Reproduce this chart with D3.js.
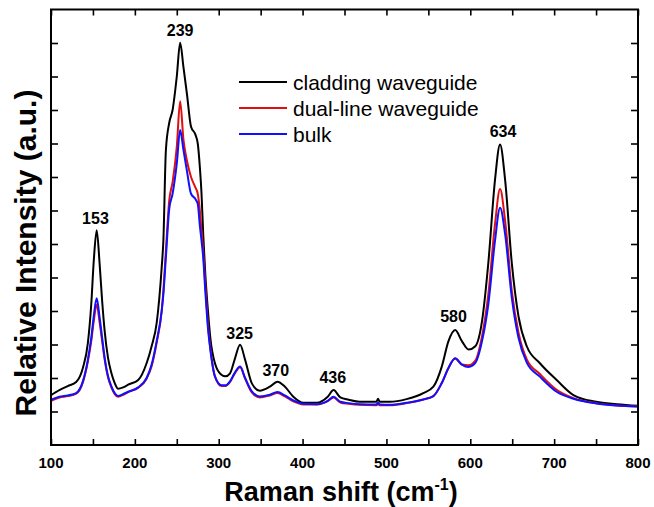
<!DOCTYPE html>
<html><head><meta charset="utf-8">
<script src="https://cdn.jsdelivr.net/npm/d3@7"></script>
<style>html,body{margin:0;padding:0;background:#fff;}svg{display:block;font-family:"Liberation Sans",Arial,sans-serif;}</style>
</head><body>
<svg id="chart" width="654" height="507"></svg>
<script>
const shift = [100,110,120,130,138,144,148,151,154.5,158,
161,164,168,172,176,180,186,192,204,214,
220,226,232,234,237,241,245,250,254,258,
262,267,272,275,277.5,279.5,281.5,284,287.5,290,
295.5,303.5,308,313.5,319,325.5,331.5,339.5,349,361,
370,379,389,401,417,430,437,445,455,468,
488,490,492,504,524,544,556,566,574,582,
590,598,606,614,621.5,629.5,635.5,641.5,649.5,657.5,
667.5,683,703,723,750,775,800];
const cladding = [1.49,1.64,1.76,1.88,2.3,3.05,4.2,5.5,6.41,5.4,
4.3,3.4,2.6,2.15,1.85,1.68,1.72,1.8,1.94,2.44,
2.95,3.64,5.3,6.1,8.8,9.62,10.0,11.0,12.01,11.27,
10.5,9.5,9.28,9.0,8.3,7.5,6.3,5.1,3.9,3.2,
2.44,2.09,2.05,2.14,2.55,2.99,2.54,1.84,1.62,1.74,
1.89,1.74,1.44,1.26,1.26,1.44,1.64,1.42,1.35,1.29,
1.29,1.38,1.29,1.29,1.37,1.55,1.74,2.34,3.1,3.43,
3.1,2.85,2.95,3.7,5.43,7.92,8.97,7.92,5.43,3.84,
2.94,2.44,1.94,1.49,1.29,1.22,1.17];
const dualLine = [1.32,1.42,1.46,1.53,1.87,2.5,3.1,3.7,4.19,3.65,
3.1,2.55,2.02,1.72,1.52,1.44,1.5,1.58,1.71,1.98,
2.35,3.05,4.0,4.6,5.8,7.3,7.85,8.9,10.26,9.1,
8.5,8.0,7.7,7.5,7.0,6.4,5.8,4.8,3.5,2.9,
2.05,1.76,1.76,1.88,2.13,2.32,1.98,1.57,1.42,1.48,
1.55,1.45,1.3,1.21,1.21,1.31,1.42,1.27,1.23,1.2,
1.19,1.22,1.19,1.19,1.25,1.36,1.46,1.85,2.3,2.58,
2.4,2.38,2.52,3.25,4.5,6.6,7.64,6.7,4.6,3.35,
2.55,2.12,1.65,1.4,1.25,1.18,1.15];
const bulk = [1.35,1.44,1.48,1.55,1.9,2.55,3.2,3.85,4.38,3.8,
3.2,2.6,2.05,1.75,1.55,1.46,1.52,1.59,1.72,2.0,
2.4,3.1,4.0,4.5,5.6,7.05,7.5,8.4,9.4,8.8,
8.2,7.5,7.35,7.2,6.55,6.1,5.6,4.6,3.4,2.85,
2.05,1.78,1.78,1.9,2.15,2.34,2.0,1.6,1.45,1.5,
1.58,1.48,1.33,1.23,1.22,1.32,1.44,1.29,1.25,1.22,
1.21,1.26,1.21,1.2,1.26,1.36,1.46,1.85,2.3,2.59,
2.4,2.33,2.45,3.1,4.2,6.1,7.08,6.3,4.4,3.2,
2.45,2.04,1.59,1.38,1.24,1.18,1.15];
const seriesNames = ["cladding waveguide","dual-line waveguide","bulk"];
const seriesColors = ["#000000","#e01010","#1010ff"];
const xTickLabels = [100,200,300,400,500,600,700,800];
const peakShifts = [153,239,325,370,436,580,634];
const peakLabelX = [153,254,325,368,436,580,639];
const peakLabelY = [6.6,12.2,3.17,2.07,1.85,3.66,9.2];

const svg = d3.select("#chart");
const L=51,R=638,T=9.5,B=445;
const x = d3.scaleLinear().domain([100,800]).range([L,R]);
const y = d3.scaleLinear().domain([0,13]).range([B,T]);

const allSeries = [cladding, dualLine, bulk];
const line = d3.line().x((d,i)=>x(shift[i])).y(d=>y(d)).curve(d3.curveMonotoneX);
const g = svg.append("g");
allSeries.forEach((s,k)=>{
  g.append("path").attr("d", line(s)).attr("fill","none")
   .attr("stroke", seriesColors[k]).attr("stroke-width",2).attr("stroke-linejoin","round");
});

// axes with inward ticks
const xt = d3.range(100,801,50);
const yt = d3.range(1,13,1);
const axB = d3.axisBottom(x).tickValues(xt).tickSize(-6).tickFormat("");
const axT = d3.axisTop(x).tickValues(xt).tickSize(-6).tickFormat("");
const axL = d3.axisLeft(y).tickValues(yt).tickSize(-7).tickFormat("");
const axR = d3.axisRight(y).tickValues(yt).tickSize(-7).tickFormat("");
[[axB,`translate(0,${B})`],[axT,`translate(0,${T})`],[axL,`translate(${L},0)`],[axR,`translate(${R},0)`]].forEach(([a,t])=>{
  const ga = svg.append("g").attr("transform",t).call(a);
  ga.select(".domain").remove();
  ga.selectAll("line").attr("stroke","#000").attr("stroke-width",1.6);
});
svg.append("rect").attr("x",L).attr("y",T).attr("width",R-L).attr("height",B-T)
  .attr("fill","none").attr("stroke","#000").attr("stroke-width",2);

// x tick labels
svg.append("g").selectAll("text").data(xTickLabels).join("text")
  .attr("x",d=>x(d)).attr("y",468).attr("text-anchor","middle")
  .attr("font-size","15px").attr("font-weight","bold").text(d=>d);

// axis titles
const xl = svg.append("text").attr("x",341).attr("y",501).attr("text-anchor","middle")
  .attr("font-size","27px").attr("font-weight","bold");
xl.append("tspan").text("Raman shift (cm");
xl.append("tspan").attr("dy",-11).attr("font-size","16px").text("-1");
xl.append("tspan").attr("dy",11).text(")");

svg.append("text").attr("transform","translate(36,253) rotate(-90)").attr("text-anchor","middle")
  .attr("font-size","30px").attr("font-weight","bold").text("Relative Intensity (a.u.)");

// peak labels
svg.append("g").selectAll("text").data(peakShifts).join("text")
  .attr("x",(d,i)=>x(peakLabelX[i])).attr("y",(d,i)=>y(peakLabelY[i]))
  .attr("text-anchor","middle").attr("font-size","16px").attr("font-weight","bold").text(d=>d);

// legend
const leg = svg.append("g");
seriesNames.forEach((n,k)=>{
  const yy = 82 + k*26;
  leg.append("line").attr("x1",239).attr("x2",287).attr("y1",yy).attr("y2",yy)
    .attr("stroke",seriesColors[k]).attr("stroke-width",2);
  leg.append("text").attr("x",293).attr("y",yy+8).attr("font-size","21px").text(n);
});
</script>
</body></html>
